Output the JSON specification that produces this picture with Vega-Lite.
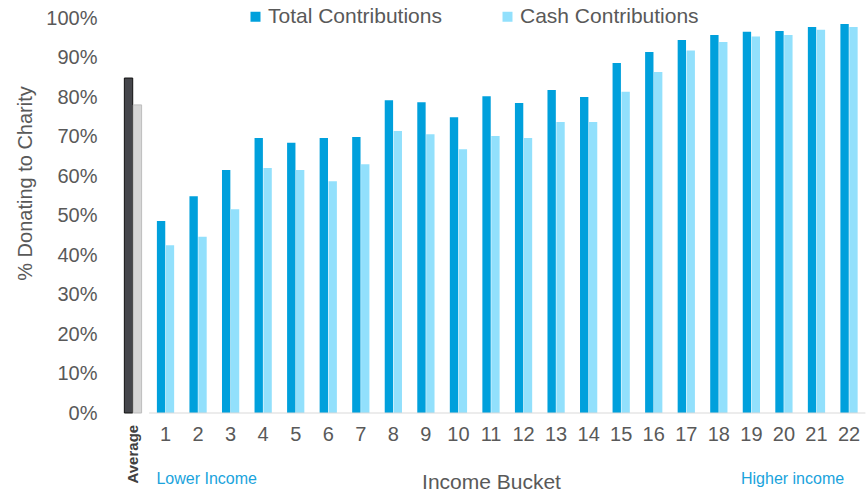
{
  "$schema": "https://vega.github.io/schema/vega-lite/v6.json",
  "autosize": {"type": "none"},
  "width": 748.6,
  "height": 395,
  "padding": {"left": 116.7, "top": 18, "right": 2.7, "bottom": 78},
  "background": "white",
  "config": {
    "view": {"stroke": null},
    "font": "Liberation Sans",
    "axis": {"labelFont": "Liberation Sans", "titleFont": "Liberation Sans"},
    "axisY": {"labelOverlap": false, "labelBound": false, "labelSeparation": 0},
    "legend": {"labelFont": "Liberation Sans"}
  },
  "datasets": {
    "bars": [
      {"bucket": "Average", "series": "Total Contributions", "value": 0.848},
      {"bucket": "Average", "series": "Cash Contributions", "value": 0.780},
      {"bucket": "1", "series": "Total Contributions", "value": 0.486},
      {"bucket": "1", "series": "Cash Contributions", "value": 0.425},
      {"bucket": "2", "series": "Total Contributions", "value": 0.549},
      {"bucket": "2", "series": "Cash Contributions", "value": 0.446},
      {"bucket": "3", "series": "Total Contributions", "value": 0.615},
      {"bucket": "3", "series": "Cash Contributions", "value": 0.516},
      {"bucket": "4", "series": "Total Contributions", "value": 0.696},
      {"bucket": "4", "series": "Cash Contributions", "value": 0.620},
      {"bucket": "5", "series": "Total Contributions", "value": 0.684},
      {"bucket": "5", "series": "Cash Contributions", "value": 0.615},
      {"bucket": "6", "series": "Total Contributions", "value": 0.696},
      {"bucket": "6", "series": "Cash Contributions", "value": 0.587},
      {"bucket": "7", "series": "Total Contributions", "value": 0.699},
      {"bucket": "7", "series": "Cash Contributions", "value": 0.630},
      {"bucket": "8", "series": "Total Contributions", "value": 0.792},
      {"bucket": "8", "series": "Cash Contributions", "value": 0.714},
      {"bucket": "9", "series": "Total Contributions", "value": 0.787},
      {"bucket": "9", "series": "Cash Contributions", "value": 0.706},
      {"bucket": "10", "series": "Total Contributions", "value": 0.749},
      {"bucket": "10", "series": "Cash Contributions", "value": 0.668},
      {"bucket": "11", "series": "Total Contributions", "value": 0.802},
      {"bucket": "11", "series": "Cash Contributions", "value": 0.701},
      {"bucket": "12", "series": "Total Contributions", "value": 0.785},
      {"bucket": "12", "series": "Cash Contributions", "value": 0.696},
      {"bucket": "13", "series": "Total Contributions", "value": 0.818},
      {"bucket": "13", "series": "Cash Contributions", "value": 0.737},
      {"bucket": "14", "series": "Total Contributions", "value": 0.800},
      {"bucket": "14", "series": "Cash Contributions", "value": 0.737},
      {"bucket": "15", "series": "Total Contributions", "value": 0.886},
      {"bucket": "15", "series": "Cash Contributions", "value": 0.813},
      {"bucket": "16", "series": "Total Contributions", "value": 0.914},
      {"bucket": "16", "series": "Cash Contributions", "value": 0.863},
      {"bucket": "17", "series": "Total Contributions", "value": 0.944},
      {"bucket": "17", "series": "Cash Contributions", "value": 0.918},
      {"bucket": "18", "series": "Total Contributions", "value": 0.957},
      {"bucket": "18", "series": "Cash Contributions", "value": 0.939},
      {"bucket": "19", "series": "Total Contributions", "value": 0.965},
      {"bucket": "19", "series": "Cash Contributions", "value": 0.953},
      {"bucket": "20", "series": "Total Contributions", "value": 0.967},
      {"bucket": "20", "series": "Cash Contributions", "value": 0.957},
      {"bucket": "21", "series": "Total Contributions", "value": 0.977},
      {"bucket": "21", "series": "Cash Contributions", "value": 0.970},
      {"bucket": "22", "series": "Total Contributions", "value": 0.985},
      {"bucket": "22", "series": "Cash Contributions", "value": 0.977}
    ],
    "notes": [
      {"bucket": "2", "note": "Lower Income"},
      {"bucket": "20", "note": "Higher income"}
    ],
    "avglabel": [
      {"bucket": "Average"}
    ],
    "baseline": [
      {"from": "1", "to": "22"}
    ]
  },
  "layer": [
    {
      "data": {"name": "bars"},
      "transform": [{"filter": "datum.bucket !== 'Average'"}],
      "mark": {"type": "bar"},
      "encoding": {
        "x": {
          "field": "bucket",
          "type": "nominal",
          "scale": {
            "domain": ["Average", "1", "2", "3", "4", "5", "6", "7", "8", "9", "10", "11", "12", "13", "14", "15", "16", "17", "18", "19", "20", "21", "22"],
            "paddingInner": 0.47,
            "paddingOuter": 0.235
          },
          "axis": {
            "title": "Income Bucket",
            "titleFontSize": 21,
            "titleFontWeight": "normal",
            "titleColor": "#595959",
            "titleBaseline": "alphabetic",
            "titleY": 75,
            "domain": false,
            "ticks": false,
            "tickSize": 0,
            "labelAngle": 0,
            "labelPadding": 11,
            "labelOverlap": false,
            "labelFontSize": 20,
            "labelColor": "#595959",
            "labelExpr": "datum.value === 'Average' ? '' : datum.label"
          }
        },
        "xOffset": {
          "field": "series",
          "type": "nominal",
          "scale": {"domain": ["Total Contributions", "Cash Contributions"], "paddingInner": 0.06}
        },
        "y": {
          "field": "value",
          "type": "quantitative",
          "scale": {"domain": [0, 1], "nice": false},
          "axis": {
            "title": "% Donating to Charity",
            "titleFontSize": 20,
            "titleFontWeight": "normal",
            "titleColor": "#595959",
            "titleAngle": -90,
            "titleBaseline": "alphabetic",
            "titleAlign": "center",
            "titleX": -85.5,
            "titleY": 165,
            "values": [0, 0.1, 0.2, 0.3, 0.4, 0.5, 0.6, 0.7, 0.8, 0.9, 1],
            "tickCount": 11,
            "format": ".0%",
            "labelOverlap": false,
            "grid": false,
            "domain": false,
            "ticks": false,
            "tickSize": 0,
            "labelPadding": 19.7,
            "labelFontSize": 20,
            "labelColor": "#595959"
          }
        },
        "color": {
          "field": "series",
          "type": "nominal",
          "scale": {"domain": ["Total Contributions", "Cash Contributions"], "range": ["#00A0DC", "#92E0FC"]},
          "legend": {
            "title": null,
            "orient": "none",
            "direction": "horizontal",
            "legendX": 128.3,
            "legendY": -12,
            "padding": 0,
            "symbolType": "square",
            "symbolSize": 100,
            "symbolStrokeWidth": 0,
            "labelFontSize": 21,
            "labelColor": "#595959",
            "labelOffset": 2,
            "labelLimit": 300,
            "columnPadding": 55
          }
        }
      }
    },
    {
      "data": {"name": "bars"},
      "transform": [{"filter": "datum.bucket === 'Average'"}],
      "mark": {"type": "bar", "strokeWidth": 1},
      "encoding": {
        "x": {"field": "bucket", "type": "nominal"},
        "xOffset": {"field": "series", "type": "nominal"},
        "y": {
          "field": "value",
          "type": "quantitative",
          "axis": {
            "title": "% Donating to Charity",
            "values": [0, 0.1, 0.2, 0.3, 0.4, 0.5, 0.6, 0.7, 0.8, 0.9, 1],
            "tickCount": 11,
            "format": ".0%",
            "labelOverlap": false
          }
        },
        "fill": {"condition": {"test": "datum.series === 'Total Contributions'", "value": "#45464B"}, "value": "#D6D6D6"},
        "stroke": {"condition": {"test": "datum.series === 'Total Contributions'", "value": "#111111"}, "value": "#BDBDBD"}
      }
    },
    {
      "data": {"name": "baseline"},
      "mark": {"type": "rule", "color": "#D9D9D9", "strokeWidth": 1},
      "encoding": {
        "x": {"field": "from", "type": "nominal", "bandPosition": -0.45},
        "x2": {"field": "to", "bandPosition": 1.45},
        "y": {
          "datum": 0,
          "type": "quantitative",
          "axis": {
            "title": "% Donating to Charity",
            "values": [0, 0.1, 0.2, 0.3, 0.4, 0.5, 0.6, 0.7, 0.8, 0.9, 1],
            "tickCount": 11,
            "format": ".0%",
            "labelOverlap": false
          }
        }
      }
    },
    {
      "data": {"name": "avglabel"},
      "mark": {"type": "text", "fontSize": 15, "fontWeight": "bold", "color": "#404040", "angle": 270, "align": "right", "baseline": "middle", "font": "Liberation Sans"},
      "encoding": {
        "x": {"field": "bucket", "type": "nominal"},
        "y": {
          "datum": -0.03,
          "type": "quantitative",
          "axis": {
            "title": "% Donating to Charity",
            "values": [0, 0.1, 0.2, 0.3, 0.4, 0.5, 0.6, 0.7, 0.8, 0.9, 1],
            "tickCount": 11,
            "format": ".0%",
            "labelOverlap": false
          }
        },
        "text": {"field": "bucket"}
      }
    },
    {
      "data": {"name": "notes"},
      "mark": {"type": "text", "fontSize": 16, "color": "#1AA3DC", "baseline": "alphabetic", "align": "center", "font": "Liberation Sans"},
      "encoding": {
        "x": {"field": "bucket", "type": "nominal", "bandPosition": 1},
        "y": {
          "datum": -0.18,
          "type": "quantitative",
          "axis": {
            "title": "% Donating to Charity",
            "values": [0, 0.1, 0.2, 0.3, 0.4, 0.5, 0.6, 0.7, 0.8, 0.9, 1],
            "tickCount": 11,
            "format": ".0%",
            "labelOverlap": false
          }
        },
        "text": {"field": "note"}
      }
    }
  ]
}
